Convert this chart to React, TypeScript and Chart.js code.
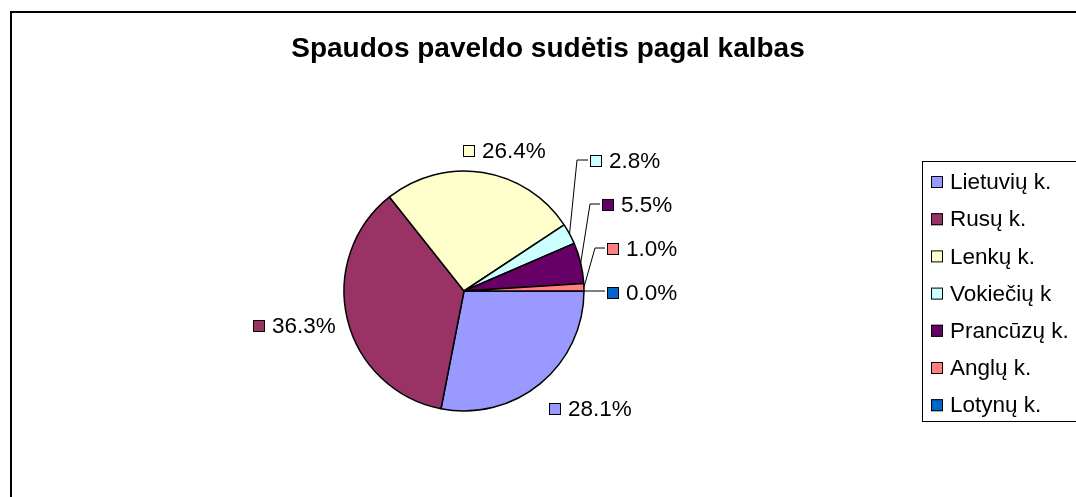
import React, { useEffect, useRef } from 'react';
import { Chart, registerables } from 'chart.js';

Chart.register(...registerables);

const TITLE = 'Spaudos paveldo sudėtis pagal kalbas';
const CATEGORIES = ['Lietuvių k.', 'Rusų k.', 'Lenkų k.', 'Vokiečių k', 'Prancūzų k.', 'Anglų k.', 'Lotynų k.'];
const SHARES = [28.1, 36.3, 26.4, 2.8, 5.5, 1.0, 0.0];
const COLORS = ['#9999FF', '#993366', '#FFFFCC', '#CCFFFF', '#660066', '#FF8080', '#0066CC'];

const FONT = '"Liberation Sans", Arial, Helvetica, sans-serif';

// label placement relative to the pie centre (px for a 120px radius)
const LABEL_LAYOUT = [
  { dx: 85, dy: 118 },
  { dx: -211, dy: 35 },
  { dx: -1, dy: -140 },
  { dx: 126, dy: -130, elbowX: 113 },
  { dx: 138, dy: -86, elbowX: 126 },
  { dx: 143, dy: -42, elbowX: 131 },
  { dx: 143, dy: 2, straight: true },
];

const decorPlugin = {
  id: 'decor',
  beforeDraw(chart: any) {
    const ctx = chart.ctx as CanvasRenderingContext2D;
    ctx.save();
    ctx.fillStyle = '#ffffff';
    ctx.fillRect(0, 0, chart.width, chart.height);
    ctx.strokeStyle = '#000000';
    ctx.lineWidth = 2;
    ctx.strokeRect(11, 12, chart.width + 40, chart.height + 40);
    ctx.fillStyle = '#000000';
    ctx.font = `bold 28px ${FONT}`;
    ctx.textAlign = 'center';
    ctx.textBaseline = 'alphabetic';
    ctx.fillText(TITLE, 548, 57);
    ctx.restore();
  },
  afterDatasetsDraw(chart: any) {
    const ctx = chart.ctx as CanvasRenderingContext2D;
    const meta = chart.getDatasetMeta(0);
    const values = chart.data.datasets[0].data as number[];
    const colors = chart.data.datasets[0].backgroundColor as string[];
    ctx.save();
    meta.data.forEach((arc: any, i: number) => {
      const { x, y, startAngle, endAngle, outerRadius } = arc.getProps(['x', 'y', 'startAngle', 'endAngle', 'outerRadius'], true);
      const k = outerRadius / 120;
      const lay = LABEL_LAYOUT[i];
      const sqX = x + lay.dx * k;
      const cy = y + lay.dy * k;
      const mid = (startAngle + endAngle) / 2;
      const ex = x + Math.cos(mid) * outerRadius;
      const ey = y + Math.sin(mid) * outerRadius;
      ctx.strokeStyle = '#000';
      ctx.lineWidth = 1;
      if (lay.elbowX !== undefined) {
        ctx.beginPath();
        ctx.moveTo(ex, ey);
        ctx.lineTo(x + lay.elbowX * k, cy - 1);
        ctx.lineTo(sqX - 2, cy - 1);
        ctx.stroke();
      } else if (lay.straight) {
        ctx.beginPath();
        ctx.moveTo(ex, ey);
        ctx.lineTo(sqX - 2, ey);
        ctx.stroke();
      }
      ctx.fillStyle = colors[i];
      ctx.fillRect(sqX, cy - 6, 12, 12);
      ctx.strokeRect(sqX + 0.5, cy - 5.5, 11, 11);
      ctx.fillStyle = '#000';
      ctx.font = `22.5px ${FONT}`;
      ctx.textAlign = 'left';
      ctx.textBaseline = 'middle';
      ctx.fillText(values[i].toFixed(1) + '%', sqX + 19, cy + 1);
    });
    ctx.restore();
  },
  afterDraw(chart: any) {
    const ctx = chart.ctx as CanvasRenderingContext2D;
    const labels = chart.data.labels as string[];
    const colors = chart.data.datasets[0].backgroundColor as string[];
    ctx.save();
    ctx.strokeStyle = '#000';
    ctx.lineWidth = 1;
    ctx.strokeRect(922.5, 161.5, 300, 260);
    labels.forEach((lab, i) => {
      const cy = 182 + i * 37.2;
      ctx.fillStyle = colors[i];
      ctx.fillRect(931, cy - 6, 12, 12);
      ctx.strokeRect(931.5, cy - 5.5, 11, 11);
      ctx.fillStyle = '#000';
      ctx.font = `22.5px ${FONT}`;
      ctx.textAlign = 'left';
      ctx.textBaseline = 'middle';
      ctx.fillText(lab, 950, cy + 1);
    });
    ctx.restore();
  },
};

export default function App() {
  const ref = useRef<HTMLCanvasElement | null>(null);
  useEffect(() => {
    if (!ref.current) return;
    const chart = new Chart(ref.current, {
      type: 'pie',
      data: {
        labels: CATEGORIES,
        datasets: [
          {
            data: SHARES,
            backgroundColor: COLORS,
            borderColor: '#000000',
            borderWidth: 1.5,
          },
        ],
      },
      options: {
        responsive: false,
        animation: false,
        rotation: 90,
        radius: 120,
        layout: { padding: { left: 344, right: 492, top: 171, bottom: 86 } },
        plugins: {
          legend: { display: false },
          title: { display: false },
          tooltip: { enabled: false },
        },
      },
      plugins: [decorPlugin],
    });
    return () => chart.destroy();
  }, []);
  return (
    <div style={{ position: 'absolute', left: 0, top: 0, width: 1076, height: 497 }}>
      <canvas ref={ref} width={1076} height={497} style={{ display: 'block' }} />
    </div>
  );
}
